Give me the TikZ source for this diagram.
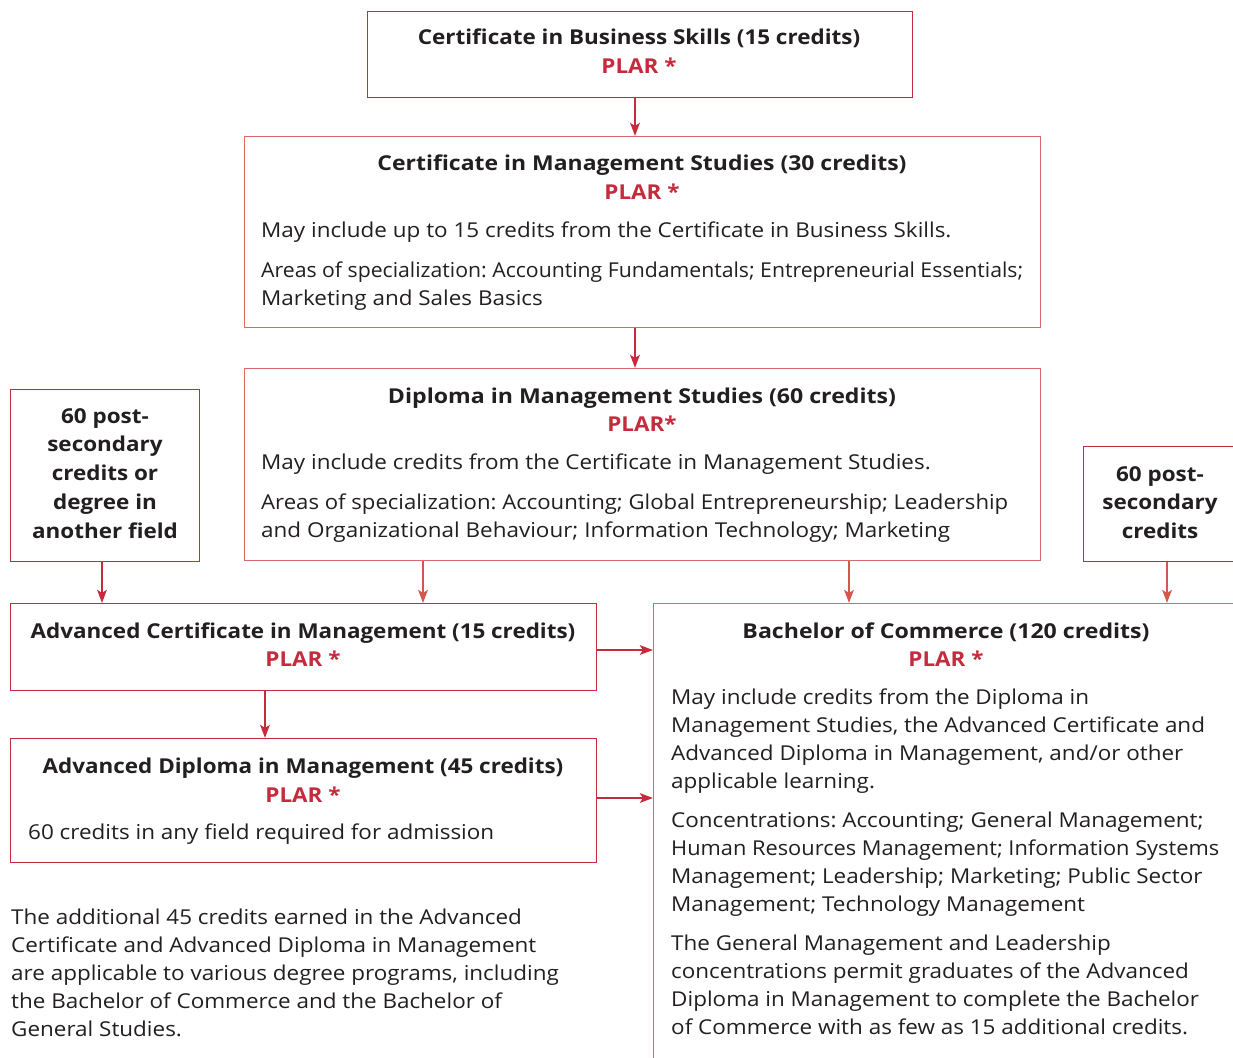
\documentclass[tikz,border=0pt]{standalone}
\usepackage{fontspec}
\usepackage{graphicx}
\setmainfont[FakeStretch=1.095]{Open Sans}
\usetikzlibrary{arrows.meta,calc}
\definecolor{dred}{HTML}{C42B3C}
\definecolor{sred}{HTML}{D4574E}
\definecolor{lred}{HTML}{D86A6A}
\definecolor{ink}{HTML}{231F20}
\newcommand{\fs}{\fontsize{20.5}{28}\selectfont}
\newcommand{\lines}[2][l]{\begin{tabular}[t]{@{}#1@{}}#2\end{tabular}}
\newcommand{\fitw}[2]{\resizebox{#1}{\height}{#2}}
\frenchspacing
\tikzset{
  x=1pt,y=-1pt,
  box/.style={draw=dred,line width=1.4pt,rectangle,inner sep=0pt,anchor=north west},
  lbox/.style={box,draw=lred},
  txt/.style={inner sep=0pt,text=ink,font=\fs},
  ttl/.style={txt,font=\fs\bfseries,anchor=base},
  plar/.style={txt,text=dred,font=\fs\bfseries,anchor=base},
  body/.style={txt,anchor=base west},
  side/.style={txt,font=\fs\bfseries,anchor=base},
  arr/.style={draw=dred,line width=2.5pt,-{Stealth[length=13pt,width=9.5pt,inset=3pt]}},
  sarr/.style={arr,draw=sred},
}
\begin{document}
\begin{tikzpicture}
\frenchspacing
\useasboundingbox (0,0) rectangle (1233,1057);
\clip (0,0) rectangle (1233,1057);
\fill[white] (0,0) rectangle (1233,1057);
% boxes
\node[box,minimum width=545,minimum height=86] (b1) at (367,11) {};
\node[lbox,minimum width=796,minimum height=191] (b2) at (244,136) {};
\node[lbox,minimum width=796,minimum height=192] (b3) at (244,368) {};
\node[box,minimum width=189,minimum height=172] (bl) at (10,389) {};
\node[box,minimum width=170,minimum height=115] (br) at (1083,446) {};
\node[box,minimum width=586,minimum height=87] (b4) at (10,603) {};
\node[box,minimum width=586,minimum height=124] (b5) at (10,738) {};
\node[box,draw=lred,minimum width=620,minimum height=480] (b6) at (653,603) {};
% box 1
\node[ttl] (t1) at (639,45) {Certificate in Business Skills (15 credits)};
\node[plar] (p1) at (639,74) {PLAR *};
% box 2
\node[ttl] (t2) at (642,170) {\fitw{529pt}{Certificate in Management Studies (30 credits)}};
\node[plar] (p2) at (642,199) {PLAR *};
\node[body] (m2) at (261,237) {May include up to 15 credits from the Certificate in Business Skills.};
\node[body] (a2) at (261,277) {\lines{\fitw{762pt}{Areas of specialization: Accounting Fundamentals; Entrepreneurial Essentials;}\\Marketing and Sales Basics}};
% box 3
\node[ttl] (t3) at (642,403) {\fitw{508pt}{Diploma in Management Studies (60 credits)}};
\node[plar] (p3) at (642,431) {PLAR*};
\node[body] (m3) at (261,469) {May include credits from the Certificate in Management Studies.};
\node[body] (a3) at (261,509) {\lines{\fitw{747pt}{Areas of specialization: Accounting; Global Entrepreneurship; Leadership}\\and Organizational Behaviour; Information Technology; Marketing}};
% side boxes
\node[side] (lt) at (105,423) {\renewcommand{\arraystretch}{1.03}\lines[c]{60 post-\\secondary\\credits or\\degree in\\another field}};
\node[side] (rt) at (1160,481) {\renewcommand{\arraystretch}{1.02}\lines[c]{60 post-\\secondary\\credits}};
% box 4
\node[ttl] (t4) at (303,638) {Advanced Certificate in Management (15 credits)};
\node[plar] (p4) at (303,666) {PLAR *};
% box 5
\node[ttl] (t5) at (303,773) {Advanced Diploma in Management (45 credits)};
\node[plar] (p5) at (303,802) {PLAR *};
\node[body] (m5) at (28,839) {60 credits in any field required for admission};
% box 6
\node[ttl] (t6) at (946,638) {\fitw{407pt}{Bachelor of Commerce (120 credits)}};
\node[plar] (p6) at (946,666) {PLAR *};
\node[body] (m6) at (671,704) {\lines{May include credits from the Diploma in\\Management Studies, the Advanced Certificate and\\Advanced Diploma in Management, and/or other\\applicable learning.\\[11.5pt]Concentrations: Accounting; General Management;\\\fitw{548pt}{Human Resources Management; Information Systems}\\Management; Leadership; Marketing; Public Sector\\Management; Technology Management\\[11pt]The General Management and Leadership\\concentrations permit graduates of the Advanced\\Diploma in Management to complete the Bachelor\\of Commerce with as few as 15 additional credits.}};
% bottom-left note
\node[body] (note) at (11,924) {\lines{The additional 45 credits earned in the Advanced\\Certificate and Advanced Diploma in Management\\are applicable to various degree programs, including\\the Bachelor of Commerce and the Bachelor of\\General Studies.}};
% connectors
\coordinate (x1) at (635,0);
\coordinate (x2) at (102,0);
\coordinate (x3) at (423,0);
\coordinate (x4) at (849,0);
\coordinate (x5) at (1167,0);
\coordinate (x6) at (265,0);
\coordinate (y1) at (0,650);
\coordinate (y2) at (0,798);
\draw[arr] (b1.south -| x1) -- (b2.north -| x1);
\draw[arr] (b2.south -| x1) -- (b3.north -| x1);
\draw[arr] (bl.south -| x2) -- (b4.north -| x2);
\draw[sarr] (b3.south -| x3) -- (b4.north -| x3);
\draw[sarr] (b3.south -| x4) -- (b6.north -| x4);
\draw[sarr] (br.south -| x5) -- (b6.north -| x5);
\draw[arr] (b4.south -| x6) -- (b5.north -| x6);
\draw[arr] (b4.east |- y1) -- (b6.west |- y1);
\draw[arr] (b5.east |- y2) -- (b6.west |- y2);
\end{tikzpicture}
\end{document}
